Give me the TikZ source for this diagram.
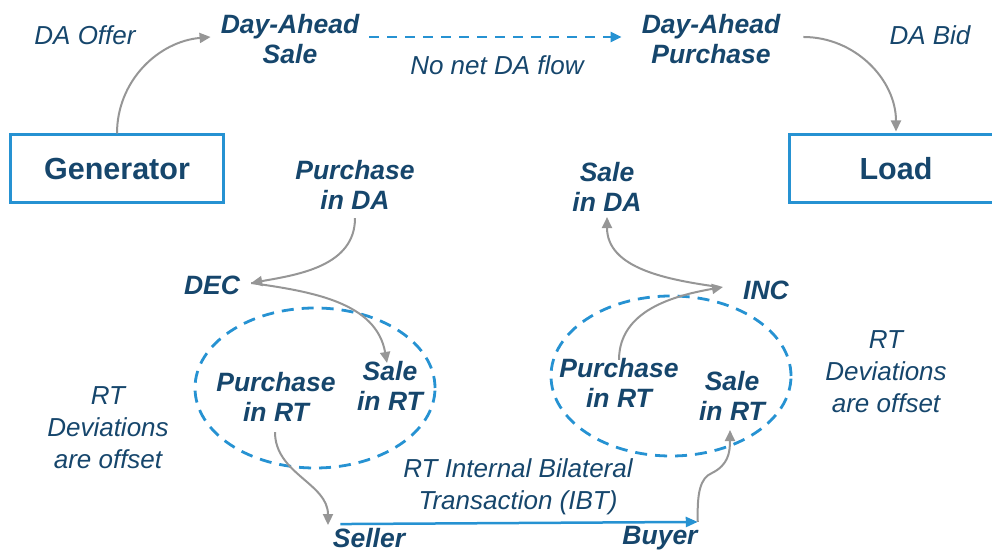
\documentclass[tikz,border=0pt]{standalone}
\usepackage{fontspec}
\setmainfont{Liberation Sans}
\usetikzlibrary{arrows.meta,calc}
\definecolor{txtblue}{RGB}{22,70,108}
\definecolor{lineblue}{RGB}{38,146,210}
\definecolor{arrgray}{RGB}{150,150,150}

\begin{document}
\begin{tikzpicture}[x=1pt,y=1pt,
  lbl/.style={text=txtblue,font=\fontsize{26.5}{30.5}\selectfont\bfseries\itshape,align=center,inner sep=0pt},
  note/.style={text=txtblue,font=\fontsize{26}{32}\selectfont\itshape,align=center,inner sep=0pt},
  party/.style={draw=lineblue,line width=3pt,minimum width=213pt,minimum height=68pt,
    text=txtblue,font=\fontsize{30.5}{34}\selectfont\bfseries,inner sep=0pt},
  flow/.style={draw=arrgray,line width=2pt,-{Triangle[length=11pt,width=10pt]}},
  rtzone/.style={draw=lineblue,line width=2.8pt,dash pattern=on 12pt off 8pt},
  ibtflow/.style={draw=lineblue,line width=2.5pt,-{Triangle[length=12pt,width=10pt]}},
  daflow/.style={draw=lineblue,line width=2.3pt,dash pattern=on 10pt off 8pt,-{Triangle[length=11pt,width=10pt]}}
]
\clip (0,0) rectangle (992,553);

% market parties
\node[party] (gen)  at (117,384) {Generator};
\node[party] (load) at (896,384) {Load};

% day-ahead layer
\node[note] (offer) at (85,518) {DA Offer};
\node[lbl]  (das)   at (290,514) {Day-Ahead\\Sale};
\node[note] (nonet) at (497,488) {No net DA flow};
\node[lbl]  (dap)   at (711,514) {Day-Ahead\\Purchase};
\node[note] (bid)   at (930,518) {DA Bid};

% virtual positions
\node[lbl] (pda) at (355,368) {Purchase\\in DA};
\node[lbl] (sda) at (607,366) {Sale\\in DA};
\node[lbl] (dec) at (212,268) {DEC};
\node[lbl] (inc) at (766,263) {INC};

% real-time zones
\draw[rtzone] (315,165) ellipse [x radius=120, y radius=80];
\draw[rtzone] (671,177) ellipse [x radius=120, y radius=80];
\node[lbl] (prtL) at (276,156) {Purchase\\in RT};
\node[lbl] (srtL) at (390,167) {Sale\\in RT};
\node[lbl] (prtR) at (619,170) {Purchase\\in RT};
\node[lbl] (srtR) at (732,157) {Sale\\in RT};

\node[note] (devL) at (108,125) {RT\\Deviations\\are offset};
\node[note] (devR) at (886,181) {RT\\Deviations\\are offset};

% bilateral transaction
\node[lbl]  (seller) at (369,15) {Seller};
\node[lbl]  (buyer)  at (660,15) {Buyer};
\node[note] (ibt)    at (518,66) {RT Internal Bilateral\\Transaction (IBT)};

% connectors
\draw[flow] (gen.north) to[out=90,in=185] ($(das.west)+(-10,2)$);
\draw[flow] ($(dap.east)+(23,2)$) to[out=0,in=90] ($(load.north)+(0,2)$);
\draw[daflow] ($(das.east)+(10,2)$) -- ($(dap.west)+(-20,2)$);

\coordinate (decpt) at ($(dec.east)+(11,2)$);
\draw[flow] ($(pda.south)+(0,-8)$) to[out=-90,in=10] (decpt);
\draw[flow] (decpt) to[out=-8,in=100] ($(srtL.north)+(-3,-2)$);
\draw[flow] ($(prtL.south)+(-1,-10)$) to[out=-90,in=90] ($(seller.north)+(-41,3)$);

\coordinate (incpt) at ($(inc.west)+(-20,3)$);
\draw[flow] ($(prtR.north)+(0,-2)$) to[out=90,in=190] (incpt);
\draw[flow] ($(incpt)+(-4,0)$) to[out=172,in=-90] ($(sda.south)+(0,-5)$);

\draw[ibtflow] ($(seller.north east)+(-65,4)$) -- ($(buyer.north east)+(0,4)$);
\draw[flow] ($(buyer.north east)+(0,4)$) .. controls (697,60) and (700,75) .. (712,80)
  .. controls (728,88) and (730,100) .. ($(srtR.south)+(-2,-9)$);
\end{tikzpicture}
\end{document}
